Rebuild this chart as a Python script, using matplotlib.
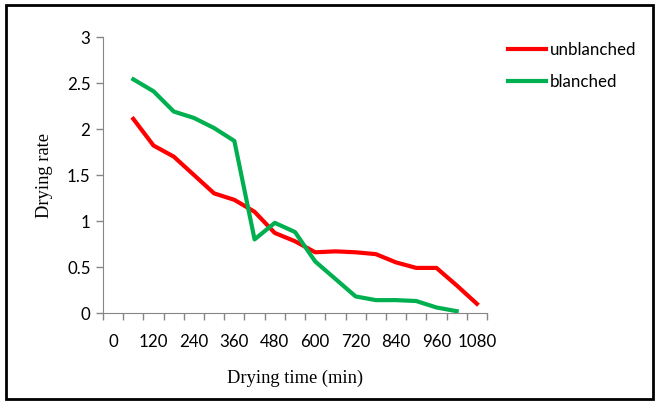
import matplotlib.pyplot as plt
import matplotlib.patches as patches
import numpy as np

# drying time categories (min) and drying rates
times = [0, 60, 120, 180, 240, 300, 360, 420, 480, 540, 600, 660, 720, 780, 840, 900, 960, 1020, 1080]
unblanched = [np.nan, 2.11, 1.82, 1.70, 1.50, 1.30, 1.23, 1.10, 0.87, 0.78, 0.66, 0.67, 0.66, 0.64, 0.55, 0.49, 0.49, 0.30, 0.10]
blanched = [np.nan, 2.54, 2.41, 2.19, 2.12, 2.01, 1.87, 0.80, 0.98, 0.88, 0.56, 0.37, 0.18, 0.14, 0.14, 0.13, 0.06, 0.02, np.nan]
tick_labels = [str(t) if i % 2 == 0 else '' for i, t in enumerate(times)]

fig = plt.figure(figsize=(6.59, 4.03), dpi=100)
ax = fig.add_axes([103 / 659, 1 - 313 / 403, 384 / 659, 276 / 403])

x = np.arange(len(times))
ax.plot(x, unblanched, color='#FF0000', lw=3, label='unblanched', solid_joinstyle='round')
ax.plot(x, blanched, color='#00B050', lw=3, label='blanched', solid_joinstyle='round')

ax.set_xlim(-0.5, len(times) - 0.5)
ax.set_ylim(0, 3)
ax.set_yticks(np.arange(0, 3.01, 0.5))
ax.set_yticklabels(['0', '0.5', '1', '1.5', '2', '2.5', '3'])

# category axis: tick marks between categories, labels on every other category
ax.set_xticks(np.arange(-0.5, len(times), 1.0))
ax.set_xticklabels([])
ax.set_xticks(x, minor=True)
ax.set_xticklabels(tick_labels, minor=True)
ax.tick_params(axis='x', which='minor', length=0, pad=15)
ax.tick_params(axis='x', which='major', length=5, color='#868686', width=1)
ax.tick_params(axis='y', length=5, color='#868686', width=1, pad=4)
for lab in ax.get_xticklabels(minor=True) + ax.get_yticklabels():
    lab.set_fontfamily('Lato')
    lab.set_fontsize(12.2)
    lab.set_color('black')

for s in ['top', 'right']:
    ax.spines[s].set_visible(False)
ax.spines['left'].set_color('#868686')
ax.spines['bottom'].set_color('#868686')

ax.set_xlabel('Drying time (min)', fontfamily='Liberation Serif', fontsize=13.3, labelpad=14)
ax.set_ylabel('Drying rate', fontfamily='Liberation Serif', fontsize=13.3, labelpad=10)

leg = ax.legend(loc='upper left', bbox_to_anchor=(493 / 659, 1 - 27 / 403), bbox_transform=fig.transFigure,
                frameon=False, handlelength=2.2, handletextpad=0.25, labelspacing=0.95,
                prop={'family': 'Lato', 'size': 12.2})

# outer frame
fig.patches.append(patches.Rectangle((6 / 659, 4 / 403), 647 / 659, 394 / 403, transform=fig.transFigure,
                                     fill=False, edgecolor='black', lw=2))

fig.savefig('out.png', dpi=100)
plt.close()
